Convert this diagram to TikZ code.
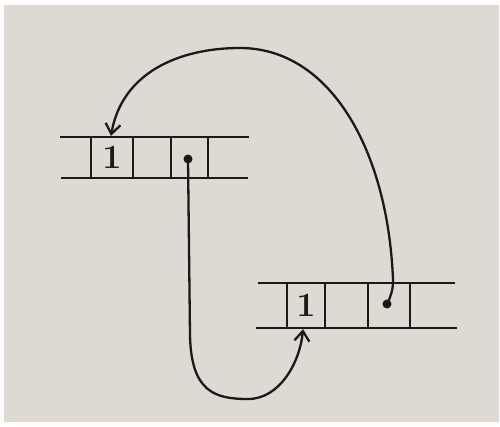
\documentclass[tikz,border=0pt]{standalone}
\usetikzlibrary{arrows.meta}
\definecolor{paper}{RGB}{222,217,211}
\definecolor{ink}{RGB}{25,25,25}
\begin{document}
\begin{tikzpicture}[x=1pt,y=-1pt,
  rail/.style={line width=2.3pt, draw=ink},
  cell/.style={draw=ink, line width=2.3pt, inner sep=0pt, font=\fontsize{34}{34}\selectfont\bfseries, text=ink},
  ptr/.style={line width=2.3pt, draw=ink, -{Straight Barb[length=10pt,width=15pt,line width=2.3pt]}},
  dot/.style={circle, fill=ink, inner sep=0pt, minimum size=9pt}]
\useasboundingbox (0,0) rectangle (500,426);
\fill[white] (0,0) rectangle (500,426);
\fill[paper] (4,5) rectangle (499,422);
% top array
\draw[rail] (60,137) -- (249,137);
\draw[rail] (61,178) -- (248,178);
\node[cell, minimum width=42pt, minimum height=41pt] (t1) at (112,157.5) {1};
\node[cell, minimum width=38pt, minimum height=41pt] (t2) at (152,157.5) {};
\node[cell, minimum width=37pt, minimum height=41pt] (t3) at (189.5,157.5) {};
% bottom array
\draw[rail] (258,283) -- (455,283);
\draw[rail] (256,328) -- (457,328);
\node[cell, minimum width=38pt, minimum height=45pt] (b1) at (306,305.5) {1};
\node[cell, minimum width=43pt, minimum height=45pt] (b2) at (346.5,305.5) {};
\node[cell, minimum width=42pt, minimum height=45pt] (b3) at (389,305.5) {};
% pointers
\node[dot] (p1) at (188,159) {};
\node[dot] (p2) at (387,304) {};
\draw[ptr] (p1.center) -- (190,335) .. controls (191,392) and (215,399) .. (248,399)
  .. controls (280,399) and (300,362) .. ([xshift=-3pt]b1.south);
\draw[ptr] (p2.center) .. controls (391,296) and (393,290) .. (393,280)
  .. controls (388,150) and (330,48) .. (240,48)
  .. controls (180,48) and (122,72) .. ([xshift=-1pt]t1.north);
\end{tikzpicture}
\end{document}
